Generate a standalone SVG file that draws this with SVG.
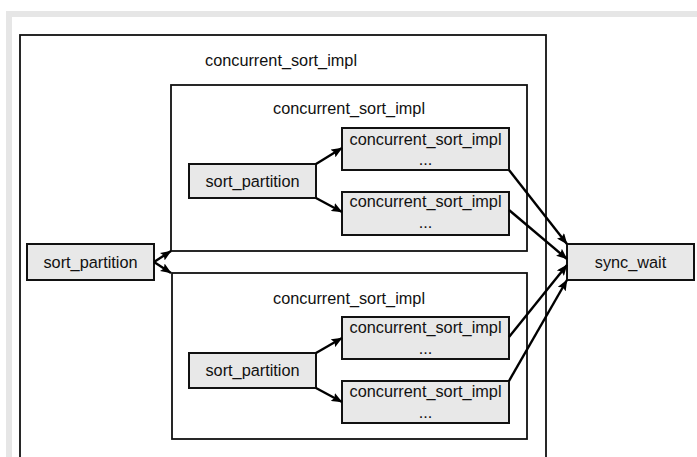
<svg xmlns="http://www.w3.org/2000/svg" width="697" height="457" viewBox="0 0 697 457">
<defs>
<style>
.band{fill:#e6e6e6}
.frame{fill:#fff;stroke:#111;stroke-width:1.8}
.node{fill:#e8e8e8;stroke:#111;stroke-width:2}
.t{font-family:"Liberation Sans",Arial,sans-serif;font-size:16.3px;fill:#111;text-anchor:middle}
.c{fill:none;stroke:#000;stroke-width:2.4;marker-end:url(#ah)}
</style>
<marker id="ah" viewBox="0 0 11 9" refX="10.5" refY="4.5" markerWidth="11" markerHeight="9" markerUnits="userSpaceOnUse" orient="auto">
<path d="M0,0 L11,4.5 L0,9 L2,4.5 Z" fill="#000"/>
</marker>
</defs>
<rect width="697" height="457" fill="#fff"/>
<rect class="band" x="6" y="11" width="691" height="6"/>
<rect class="band" x="6" y="11" width="6" height="446"/>

<g id="outer">
<rect class="frame" x="20" y="35" width="526" height="440"/>
<text class="t" x="281" y="66">concurrent_sort_impl</text>
</g>

<g id="inner-top">
<rect class="frame" x="171" y="85" width="356" height="166"/>
<text class="t" x="349" y="114">concurrent_sort_impl</text>
</g>
<g id="inner-bottom">
<rect class="frame" x="172" y="273" width="355" height="166"/>
<text class="t" x="349" y="304">concurrent_sort_impl</text>
</g>

<g id="sort-left">
<rect class="node" x="27" y="244" width="127" height="36"/>
<text class="t" x="90.5" y="268">sort_partition</text>
</g>
<g id="sync-wait">
<rect class="node" x="567" y="244" width="127" height="36"/>
<text class="t" x="630.5" y="268">sync_wait</text>
</g>

<g id="sort-top">
<rect class="node" x="189" y="164" width="127" height="34"/>
<text class="t" x="252.5" y="187">sort_partition</text>
</g>
<g id="impl-1">
<rect class="node" x="342" y="128" width="167" height="42"/>
<text class="t" x="425.5" y="145">concurrent_sort_impl</text>
<text class="t" x="425.5" y="165">...</text>
</g>
<g id="impl-2">
<rect class="node" x="342" y="192" width="167" height="43"/>
<text class="t" x="425.5" y="207">concurrent_sort_impl</text>
<text class="t" x="425.5" y="228">...</text>
</g>

<g id="sort-bottom">
<rect class="node" x="189" y="353" width="127" height="35"/>
<text class="t" x="252.5" y="376">sort_partition</text>
</g>
<g id="impl-3">
<rect class="node" x="342" y="317" width="167" height="42"/>
<text class="t" x="425.5" y="333">concurrent_sort_impl</text>
<text class="t" x="425.5" y="354">...</text>
</g>
<g id="impl-4">
<rect class="node" x="342" y="381" width="167" height="42"/>
<text class="t" x="425.5" y="397">concurrent_sort_impl</text>
<text class="t" x="425.5" y="418">...</text>
</g>

<g id="connectors">
<path class="c" d="M154,262 L171,251"/>
<path class="c" d="M154,262 L171,273"/>
<path class="c" d="M316,164 L342,148"/>
<path class="c" d="M316,198 L342,212"/>
<path class="c" d="M316,353 L342,338"/>
<path class="c" d="M316,388 L342,402"/>
<path class="c" d="M509,170 L567,244"/>
<path class="c" d="M509,210 L567,259"/>
<path class="c" d="M509,337 L567,265"/>
<path class="c" d="M509,381 L567,280"/>
</g>
</svg>
